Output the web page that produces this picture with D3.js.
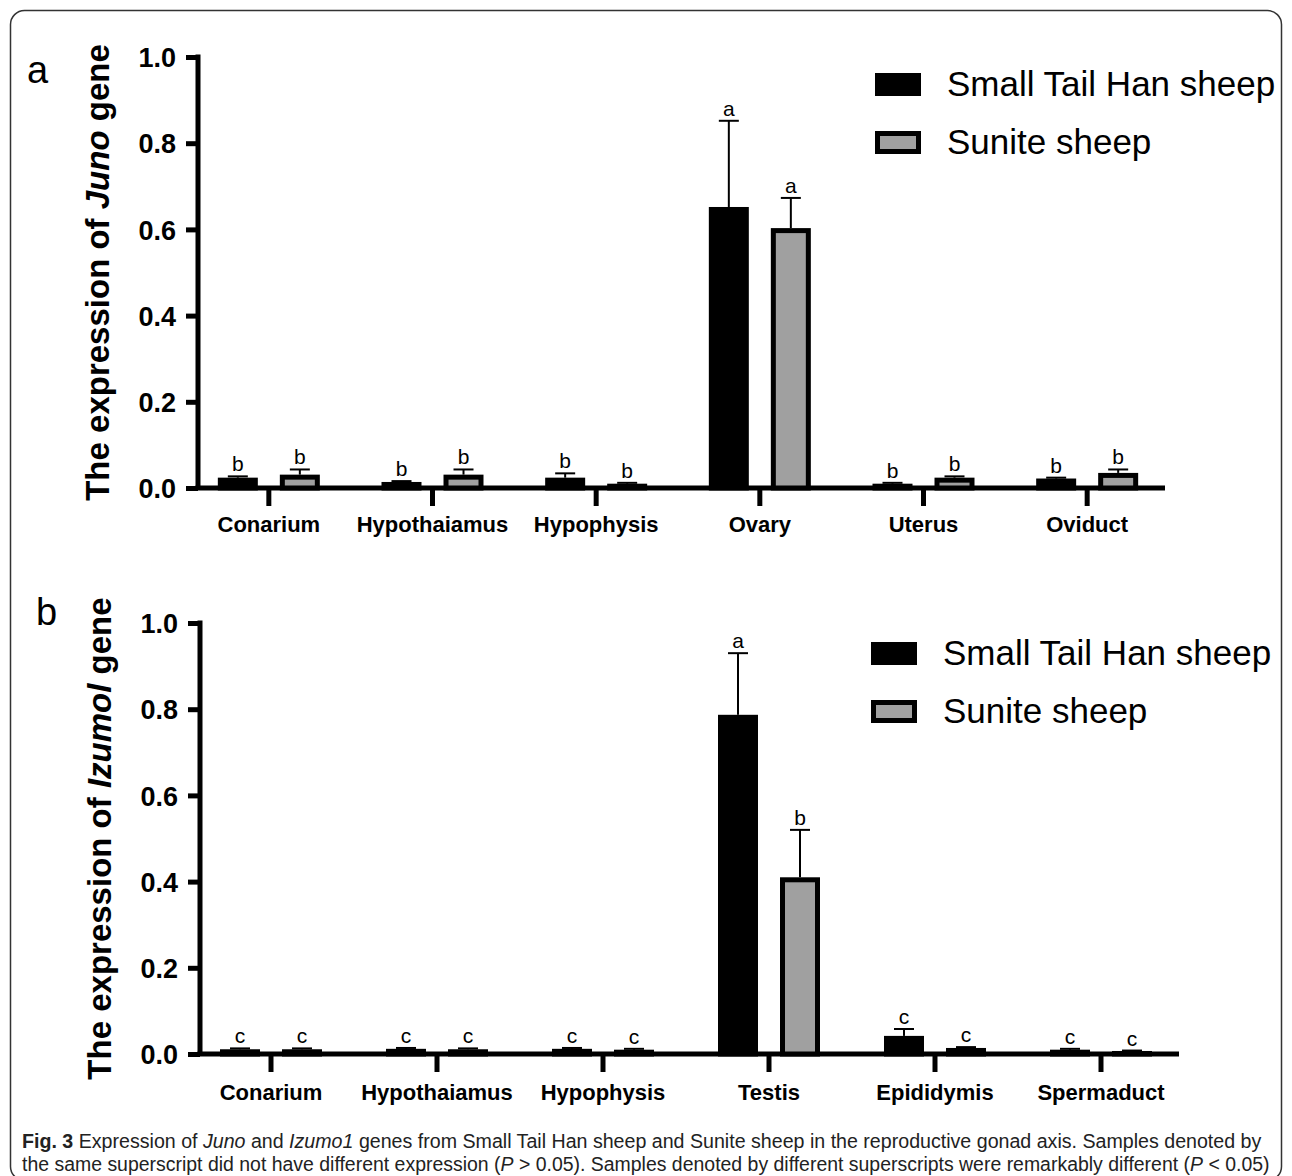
<!DOCTYPE html>
<html>
<head>
<meta charset="utf-8">
<script src="https://d3js.org/d3.v7.min.js"></script>
<style>
  body { margin: 0; background: #fff; }
  svg { display: block; font-family: "Liberation Sans", Arial, sans-serif; }
</style>
</head>
<body>
<svg id="svg" width="1292" height="1176"></svg>
<script>
(function() {

    const svg = d3.select('#svg')
    const width = 1292, height = 1176

    // series names
    const series = ['Small Tail Han sheep', 'Sunite sheep']

    // panel a: Juno
    const categoriesA = ['Conarium', 'Hypothaiamus', 'Hypophysis', 'Ovary', 'Uterus', 'Oviduct']
    const hanA = [0.024, 0.014, 0.024, 0.652, 0.010, 0.022]
    const hanErrA = [0.003, 0.002, 0.010, 0.200, 0.002, 0.002]
    const suniteA = [0.031, 0.031, 0.010, 0.603, 0.024, 0.035]
    const suniteErrA = [0.012, 0.012, 0.002, 0.070, 0.003, 0.008]
    const hanLetterA = ['b', 'b', 'b', 'a', 'b', 'b']
    const suniteLetterA = ['b', 'b', 'b', 'a', 'b', 'b']

    // panel b: Izumo1
    const categoriesB = ['Conarium', 'Hypothaiamus', 'Hypophysis', 'Testis', 'Epididymis', 'Spermaduct']
    const hanB = [0.011, 0.012, 0.012, 0.787, 0.042, 0.010]
    const hanErrB = [0.002, 0.002, 0.002, 0.143, 0.016, 0.002]
    const suniteB = [0.011, 0.011, 0.010, 0.410, 0.014, 0.007]
    const suniteErrB = [0.002, 0.002, 0.002, 0.110, 0.002, 0.001]
    const hanLetterB = ['c', 'c', 'c', 'a', 'c', 'c']
    const suniteLetterB = ['c', 'c', 'c', 'b', 'c', 'c']

    const yTicks = [0, 0.2, 0.4, 0.6, 0.8, 1.0]
    const grey = '#a0a0a0'

    // frame (bottom edge runs off the page)
    svg.append('rect')
        .attr('x', 10.5)
        .attr('y', 10.5)
        .attr('width', 1271)
        .attr('height', 1170)
        .attr('rx', 14)
        .style('fill', 'none')
        .style('stroke', '#333')
        .style('stroke-width', 1.5)

    function panel(opts) {
        const g = svg.append('g')
        const y = d3.scaleLinear().domain([0, 1]).range([opts.y0, opts.y1])
        const x = d3.scaleBand().domain(opts.categories).range(opts.xRange)
        const x1 = d3.scaleBand().domain(series)
            .range([x.bandwidth() / 2 - 51, x.bandwidth() / 2 + 51])
            .paddingInner(0.355)

        // y axis
        const yAxis = g.append('g')
            .attr('transform', 'translate(' + opts.axisX + ',0)')
            .call(d3.axisLeft(y).tickValues(yTicks).tickFormat(d3.format('.1f')).tickSize(12).tickSizeOuter(0).tickPadding(10))
        yAxis.select('.domain').remove()
        yAxis.selectAll('.tick line').style('stroke', '#000').style('stroke-width', 5)
        yAxis.selectAll('.tick text')
            .style('font-size', '27px')
            .style('font-weight', 'bold')
            .style('fill', '#000')
            .attr('dy', '0.36em')
        g.append('line')
            .attr('x1', opts.axisX).attr('x2', opts.axisX)
            .attr('y1', y(1) - 2.5).attr('y2', y(0))
            .style('stroke', '#000').style('stroke-width', 5)

        // x axis
        const xAxis = g.append('g')
            .attr('transform', 'translate(0,' + y(0) + ')')
            .call(d3.axisBottom(x).tickSize(18).tickSizeOuter(0).tickPadding(0))
        xAxis.select('.domain').remove()
        xAxis.selectAll('.tick line').style('stroke', '#000').style('stroke-width', 5)
        xAxis.selectAll('.tick text')
            .attr('y', opts.labelOffset)
            .attr('dy', 0)
            .style('font-size', '22px')
            .style('font-weight', 'bold')
            .style('fill', '#000')
        g.append('line')
            .attr('x1', opts.axisX - 2.5).attr('x2', opts.axisEnd)
            .attr('y1', y(0)).attr('y2', y(0))
            .style('stroke', '#000').style('stroke-width', 5)

        const rows = opts.categories.map((c, i) => [
            { cat: c, s: series[0], v: opts.han[i], e: opts.hanErr[i], l: opts.hanLetter[i] },
            { cat: c, s: series[1], v: opts.sunite[i], e: opts.suniteErr[i], l: opts.suniteLetter[i] }
        ]).flat()

        const bw = x1.bandwidth()

        // error bars
        const err = g.selectAll('.err')
            .data(rows)
            .enter()
            .append('g')
                .attr('transform', d => 'translate(' + (x(d.cat) + x1(d.s) + bw / 2) + ',0)')
        err.append('line')
            .attr('x1', 0).attr('x2', 0)
            .attr('y1', d => y(d.v)).attr('y2', d => y(d.v + d.e))
            .style('stroke', '#000').style('stroke-width', 2)
        err.append('line')
            .attr('x1', -10).attr('x2', 10)
            .attr('y1', d => y(d.v + d.e)).attr('y2', d => y(d.v + d.e))
            .style('stroke', '#000').style('stroke-width', 2)

        // bars
        g.selectAll('.bar')
            .data(rows)
            .enter()
            .append('rect')
                .attr('x', d => x(d.cat) + x1(d.s) + 2.5)
                .attr('y', d => y(d.v) + 2.5)
                .attr('width', bw - 5)
                .attr('height', d => Math.max(0, y(0) - y(d.v) - 2.5))
                .style('fill', d => d.s === series[0] ? '#000' : grey)
                .style('stroke', '#000')
                .style('stroke-width', 5)

        // significance letters
        g.selectAll('.sig')
            .data(rows)
            .enter()
            .append('text')
                .attr('x', d => x(d.cat) + x1(d.s) + bw / 2)
                .attr('y', d => y(d.v + d.e) - 5)
                .attr('text-anchor', 'middle')
                .style('font-size', '21px')
                .style('fill', '#000')
                .text(d => d.l)

        // y axis title
        const title = g.append('text')
            .attr('transform', 'translate(' + opts.titleX + ',' + ((y(0) + y(1)) / 2) + ') rotate(-90)')
            .attr('text-anchor', 'middle')
            .style('font-size', '33px')
            .style('font-weight', 'bold')
            .style('fill', '#000')
        title.append('tspan').text('The expression of ')
        title.append('tspan').style('font-style', 'italic').text(opts.gene)
        title.append('tspan').text(' gene')

        // panel letter
        svg.append('text')
            .attr('x', opts.letterX)
            .attr('y', opts.letterY)
            .style('font-size', '38px')
            .style('fill', '#000')
            .text(opts.letter)

        // legend
        const leg = g.selectAll('.legend')
            .data(series)
            .enter()
            .append('g')
                .attr('transform', (d, i) => 'translate(' + opts.legX + ',' + (opts.legY + i * 58) + ')')
        leg.append('rect')
            .attr('x', 2.5).attr('y', 2.5)
            .attr('width', 41).attr('height', 18)
            .style('fill', (d, i) => i === 0 ? '#000' : grey)
            .style('stroke', '#000')
            .style('stroke-width', 5)
        leg.append('text')
            .attr('x', 72)
            .attr('y', 23)
            .style('font-size', '35px')
            .style('fill', '#000')
            .text(d => d)
    }

    panel({
        categories: categoriesA, han: hanA, hanErr: hanErrA, sunite: suniteA, suniteErr: suniteErrA,
        hanLetter: hanLetterA, suniteLetter: suniteLetterA,
        y0: 488, y1: 57, xRange: [187, 1169], axisX: 198, axisEnd: 1165, labelOffset: 44,
        gene: 'Juno', titleX: 109, letter: 'a', letterX: 27, letterY: 83,
        legX: 875, legY: 73
    })

    panel({
        categories: categoriesB, han: hanB, hanErr: hanErrB, sunite: suniteB, suniteErr: suniteErrB,
        hanLetter: hanLetterB, suniteLetter: suniteLetterB,
        y0: 1054, y1: 623, xRange: [188, 1184], axisX: 200, axisEnd: 1179, labelOffset: 46,
        gene: 'Izumol', titleX: 111, letter: 'b', letterX: 36, letterY: 625,
        legX: 871, legY: 642
    })

    // caption
    const captionLines = [
        [['Fig. 3', 'bold'], [' Expression of ', ''], ['Juno', 'italic'], [' and ', ''], ['Izumo1', 'italic'],
         [' genes from Small Tail Han sheep and Sunite sheep in the reproductive gonad axis. Samples denoted by', '']],
        [['the same superscript did not have different expression (', ''], ['P', 'italic'], [' > 0.05). Samples denoted by different superscripts were remarkably different (', ''], ['P', 'italic'], [' < 0.05)', '']]
    ]
    const captionWidths = [1240, 1248]

    captionLines.forEach((parts, i) => {
        const t = svg.append('text')
            .attr('x', 0)
            .attr('y', 0)
            .style('font-family', '"Liberation Sans Narrow", "Liberation Sans", sans-serif')
            .style('font-size', '21px')
            .style('fill', '#222')
        parts.forEach(p => {
            const ts = t.append('tspan').text(p[0])
            if (p[1] === 'bold') ts.style('font-weight', 'bold')
            if (p[1] === 'italic') ts.style('font-style', 'italic')
        })
        const w = t.node().getComputedTextLength()
        const k = captionWidths[i] / w
        t.attr('transform', 'translate(22,' + (1148 + i * 23) + ') scale(' + k + ',1)')
    })

})();
</script>
</body>
</html>
